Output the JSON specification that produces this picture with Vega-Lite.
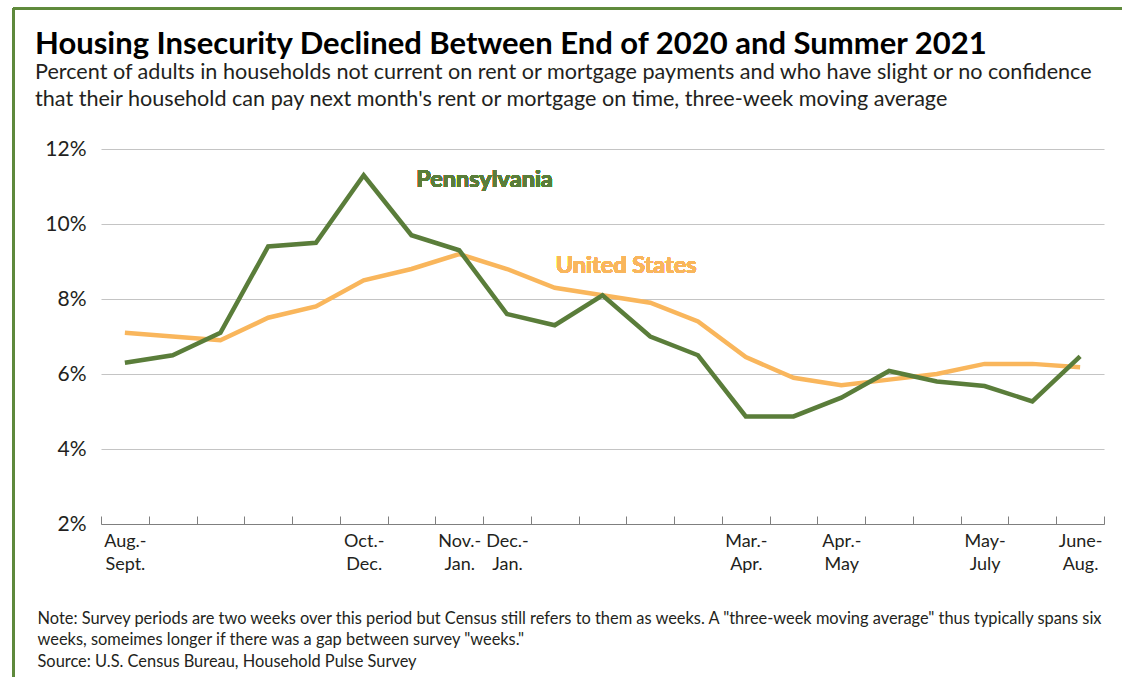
{
  "$schema": "https://vega.github.io/schema/vega-lite/v6.json",
  "autosize": {"type": "none"},
  "width": 1003,
  "height": 375,
  "padding": {"left": 101, "top": 149, "right": 18, "bottom": 153},
  "background": "#ffffff",
  "config": {"view": {"stroke": null}, "font": "Lato"},
  "title": {
    "text": "Housing Insecurity Declined Between End of 2020 and Summer 2021",
    "subtitle": ["Percent of adults in households not current on rent or mortgage payments and who have slight or no confidence", "that their household can pay next month's rent or mortgage on time, three-week moving average"],
    "anchor": "start",
    "frame": "group",
    "dx": -66,
    "dy": 130,
    "offset": 26,
    "font": "Lato",
    "fontSize": 31,
    "fontWeight": "bold",
    "color": "#000000",
    "subtitleFont": "Lato",
    "subtitleFontSize": 21.6,
    "subtitleColor": "#231f20",
    "subtitleLineHeight": 27,
    "subtitlePadding": 1
  },
  "data": {
    "values": [
      {"idx": 0, "series": "United States", "pct": 7.1},
      {"idx": 1, "series": "United States", "pct": 7.0},
      {"idx": 2, "series": "United States", "pct": 6.9},
      {"idx": 3, "series": "United States", "pct": 7.5},
      {"idx": 4, "series": "United States", "pct": 7.8},
      {"idx": 5, "series": "United States", "pct": 8.5},
      {"idx": 6, "series": "United States", "pct": 8.8},
      {"idx": 7, "series": "United States", "pct": 9.2},
      {"idx": 8, "series": "United States", "pct": 8.8},
      {"idx": 9, "series": "United States", "pct": 8.3},
      {"idx": 10, "series": "United States", "pct": 8.1},
      {"idx": 11, "series": "United States", "pct": 7.9},
      {"idx": 12, "series": "United States", "pct": 7.4},
      {"idx": 13, "series": "United States", "pct": 6.45},
      {"idx": 14, "series": "United States", "pct": 5.9},
      {"idx": 15, "series": "United States", "pct": 5.7},
      {"idx": 16, "series": "United States", "pct": 5.85},
      {"idx": 17, "series": "United States", "pct": 6.0},
      {"idx": 18, "series": "United States", "pct": 6.27},
      {"idx": 19, "series": "United States", "pct": 6.27},
      {"idx": 20, "series": "United States", "pct": 6.18},
      {"idx": 0, "series": "Pennsylvania", "pct": 6.3},
      {"idx": 1, "series": "Pennsylvania", "pct": 6.5},
      {"idx": 2, "series": "Pennsylvania", "pct": 7.1},
      {"idx": 3, "series": "Pennsylvania", "pct": 9.4},
      {"idx": 4, "series": "Pennsylvania", "pct": 9.5},
      {"idx": 5, "series": "Pennsylvania", "pct": 11.3},
      {"idx": 6, "series": "Pennsylvania", "pct": 9.7},
      {"idx": 7, "series": "Pennsylvania", "pct": 9.3},
      {"idx": 8, "series": "Pennsylvania", "pct": 7.6},
      {"idx": 9, "series": "Pennsylvania", "pct": 7.3},
      {"idx": 10, "series": "Pennsylvania", "pct": 8.1},
      {"idx": 11, "series": "Pennsylvania", "pct": 7.0},
      {"idx": 12, "series": "Pennsylvania", "pct": 6.5},
      {"idx": 13, "series": "Pennsylvania", "pct": 4.87},
      {"idx": 14, "series": "Pennsylvania", "pct": 4.87},
      {"idx": 15, "series": "Pennsylvania", "pct": 5.37},
      {"idx": 16, "series": "Pennsylvania", "pct": 6.08},
      {"idx": 17, "series": "Pennsylvania", "pct": 5.8},
      {"idx": 18, "series": "Pennsylvania", "pct": 5.68},
      {"idx": 19, "series": "Pennsylvania", "pct": 5.27},
      {"idx": 20, "series": "Pennsylvania", "pct": 6.47}
    ]
  },
  "layer": [
    {
      "mark": {"type": "line", "strokeWidth": 4.5, "strokeJoin": "miter"},
      "encoding": {
        "x": {
          "field": "idx",
          "type": "quantitative",
          "scale": {"domain": [-0.5, 20.5], "nice": false, "zero": false},
          "axis": {
            "values": [-0.5, 0.5, 1.5, 2.5, 3.5, 4.5, 5.5, 6.5, 7.5, 8.5, 9.5, 10.5, 11.5, 12.5, 13.5, 14.5, 15.5, 16.5, 17.5, 18.5, 19.5, 20.5],
            "labelExpr": "datum.value == -0.5 ? ['Aug.-','Sept.'] : datum.value == 4.5 ? ['Oct.-','Dec.'] : datum.value == 6.5 ? ['Nov.-','Jan.'] : datum.value == 7.5 ? ['Dec.-','Jan.'] : datum.value == 12.5 ? ['Mar.-','Apr.'] : datum.value == 14.5 ? ['Apr.-','May'] : datum.value == 17.5 ? ['May-','July'] : datum.value == 19.5 ? ['June-','Aug.'] : ''",
            "labelOffset": 23.9,
            "labelOverlap": false,
            "labelFlush": false,
            "labelFont": "Lato",
            "labelFontSize": 18,
            "labelColor": "#231f20",
            "labelLineHeight": 23,
            "labelPadding": 16,
            "labelBaseline": "top",
            "tickSize": -8,
            "tickColor": "#7f7f7f",
            "domainColor": "#7f7f7f",
            "grid": false,
            "title": ["Note: Survey periods are two weeks over this period but Census still refers to them as weeks. A \"three-week moving average\" thus typically spans six", "weeks, someimes longer if there was a gap between survey \"weeks.\"", "Source: U.S. Census Bureau, Household Pulse Survey"],
            "titleFont": "Lato",
            "titleFontSize": 16.4,
            "titleFontWeight": "normal",
            "titleColor": "#231f20",
            "titleAlign": "left",
            "titleAnchor": "start",
            "titleBaseline": "alphabetic",
            "titleLineHeight": 21.5,
            "titleX": -64,
            "titleY": 99
          }
        },
        "y": {
          "field": "pct",
          "type": "quantitative",
          "scale": {"domain": [2, 12], "nice": false, "zero": false},
          "axis": {
            "values": [2, 4, 6, 8, 10, 12],
            "labelExpr": "datum.value + '%'",
            "labelFont": "Lato",
            "labelFontSize": 21,
            "labelColor": "#231f20",
            "labelPadding": 15,
            "domain": false,
            "ticks": false,
            "grid": true,
            "gridColor": "#c4c4c4",
            "gridWidth": 1.2,
            "title": null
          }
        },
        "color": {
          "field": "series",
          "type": "nominal",
          "scale": {"domain": ["United States", "Pennsylvania"], "range": ["#f9b65c", "#5a7d3a"]},
          "legend": null
        }
      }
    },
    {
      "mark": {"type": "text", "text": "Pennsylvania", "font": "Lato", "fontSize": 23.5, "fontWeight": "bold", "color": "#5a7d3a", "align": "left", "baseline": "alphabetic"},
      "encoding": {"x": {"datum": 6.1}, "y": {"datum": 10.99}}
    },
    {
      "mark": {"type": "text", "text": "United States", "font": "Lato", "fontSize": 23.5, "fontWeight": "bold", "color": "#f9b65c", "align": "left", "baseline": "alphabetic"},
      "encoding": {"x": {"datum": 9.02}, "y": {"datum": 8.7}}
    },
    {
      "mark": {"type": "rule", "color": "#5f8a3c", "strokeWidth": 2},
      "encoding": {"x": {"datum": -2.34}, "x2": {"datum": 25}, "y": {"datum": 15.74}}
    },
    {
      "mark": {"type": "rule", "color": "#5f8a3c", "strokeWidth": 2},
      "encoding": {"x": {"datum": -2.34}, "y": {"datum": 15.74}, "y2": {"datum": -3}}
    }
  ]
}
